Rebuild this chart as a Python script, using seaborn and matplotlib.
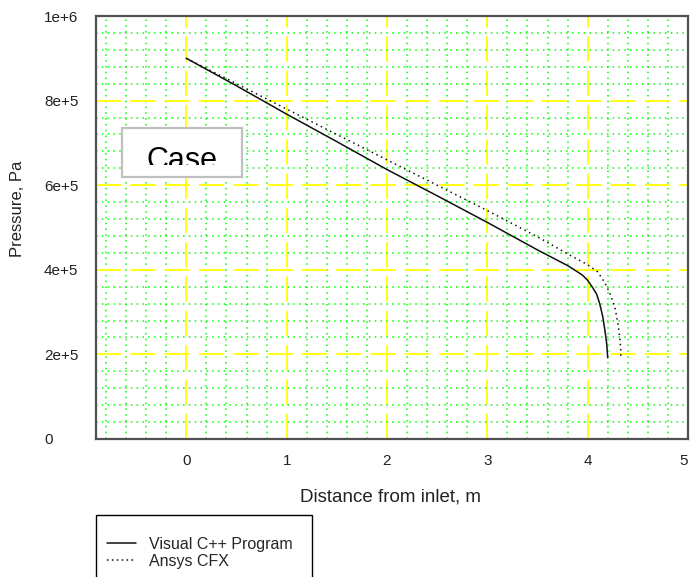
import numpy as np
import pandas as pd
import matplotlib
matplotlib.use("Agg")
import matplotlib.pyplot as plt
import seaborn as sns
from matplotlib.ticker import MultipleLocator, FixedLocator, FixedFormatter
from matplotlib.patches import Rectangle
from matplotlib.lines import Line2D

# --- data ---
x_cpp = [0, 0.5, 1.0, 1.5, 2.0, 2.5, 3.0, 3.5, 3.8, 3.88, 3.95, 4.0, 4.05, 4.09, 4.12, 4.15, 4.17, 4.19, 4.2]
p_cpp = [9.0e5, 8.35e5, 7.68e5, 7.03e5, 6.37e5, 5.75e5, 5.12e5, 4.47e5, 4.1e5, 3.98e5, 3.87e5, 3.75e5,
         3.58e5, 3.42e5, 3.2e5, 2.9e5, 2.6e5, 2.25e5, 1.92e5]

x_cfx = [0, 0.5, 1.0, 1.5, 2.0, 2.5, 3.0, 3.5, 3.82, 4.0, 4.1, 4.17, 4.22, 4.27, 4.3, 4.32, 4.33, 4.33]
p_cfx = [9.0e5, 8.4e5, 7.8e5, 7.2e5, 6.6e5, 6.0e5, 5.4e5, 4.78e5, 4.35e5, 4.12e5, 3.95e5, 3.7e5,
         3.45e5, 3.13e5, 2.75e5, 2.4e5, 2.1e5, 1.95e5]

series_names = ["Visual C++ Program", "Ansys CFX"]
x_ticks = [0, 1, 2, 3, 4, 5]
y_ticks = [0, 2e5, 4e5, 6e5, 8e5, 1e6]
y_tick_labels = ["0", "2e+5", "4e+5", "6e+5", "8e+5", "1e+6"]

sns.set_style("white")
plt.rcParams["font.family"] = ["Liberation Sans", "DejaVu Sans"]

W, H = 690, 577
fig = plt.figure(figsize=(W / 100, H / 100), dpi=100)
ax = fig.add_axes([96 / W, 1 - 439 / H, (688 - 96) / W, (439 - 16) / H])

df_cpp = pd.DataFrame({"x": x_cpp, "p": p_cpp})
df_cfx = pd.DataFrame({"x": x_cfx, "p": p_cfx})
sns.lineplot(data=df_cpp, x="x", y="p", ax=ax, sort=False, estimator=None,
             color="#111111", lw=1.1, zorder=3)
sns.lineplot(data=df_cfx, x="x", y="p", ax=ax, sort=False, estimator=None,
             color="#111111", lw=1.1, linestyle=(0, (1, 2.4)), zorder=3)

ax.set_xlim(-0.9, 5)
ax.set_ylim(0, 1e6)
ax.xaxis.set_major_locator(FixedLocator(x_ticks))
ax.yaxis.set_major_locator(FixedLocator(y_ticks))
ax.yaxis.set_major_formatter(FixedFormatter(y_tick_labels))
ax.xaxis.set_minor_locator(MultipleLocator(0.2))
ax.yaxis.set_minor_locator(MultipleLocator(4e4))

ax.set_axisbelow(True)
ax.grid(which="minor", color="#00ff00", linestyle=(0, (1, 2.8)), lw=1.1)
ax.grid(which="major", color="#ffff00", linestyle=(0, (14, 5)), lw=1.3)

for s in ax.spines.values():
    s.set_color("#505050")
    s.set_linewidth(1.6)

ax.tick_params(which="major", direction="out", length=5.5, width=1.2, color="#505050",
               labelsize=11, labelcolor="#222222")
ax.tick_params(which="minor", length=0)
ax.tick_params(axis="x", pad=5)
ax.tick_params(axis="y", pad=32)
for lab in ax.get_yticklabels():
    lab.set_horizontalalignment("left")
ax.get_xticklabels()[-1].set_horizontalalignment("right")

ax.set_xlabel("Distance from inlet, m", fontsize=13.5, color="#222222")
ax.xaxis.set_label_coords(0.498, -0.137)
ax.xaxis.label.set_verticalalignment("center")
ax.set_ylabel("Pressure, Pa", fontsize=12, color="#222222")
ax.yaxis.set_label_coords(-0.132, 0.544)
ax.yaxis.label.set_verticalalignment("center")

# "Case" box, text clipped at its lower part
box = Rectangle((122 / W, 1 - 177 / H), 120 / W, 49 / H, transform=fig.transFigure,
                facecolor="white", edgecolor="#c0c0c0", lw=1.6, zorder=5)
fig.add_artist(box)
clip = Rectangle((122 / W, 1 - 165 / H), 120 / W, 37 / H, transform=fig.transFigure)
t = fig.text(181.5 / W, 1 - 146 / H, "Case", fontsize=22, ha="center", va="top",
             color="black", zorder=6)
t.set_clip_path(clip)

# legend below the axes
leg_box = Rectangle((96 / W, 1 - 595 / H), 216 / W, 80 / H, transform=fig.transFigure,
                    facecolor="white", edgecolor="black", lw=1.0, zorder=4, clip_on=False)
fig.add_artist(leg_box)
handles = [Line2D([], [], color="#111111", lw=1.1),
           Line2D([], [], color="#111111", lw=1.1, linestyle=(0, (1, 2.2)))]
fig.legend(handles, series_names, loc="upper left", bbox_to_anchor=(107 / W, 1 - 537 / H),
           frameon=False, borderpad=0, borderaxespad=0, fontsize=11.5, handlelength=1.8,
           handletextpad=0.8, labelspacing=0.1)

fig.savefig("out.png", dpi=100)
